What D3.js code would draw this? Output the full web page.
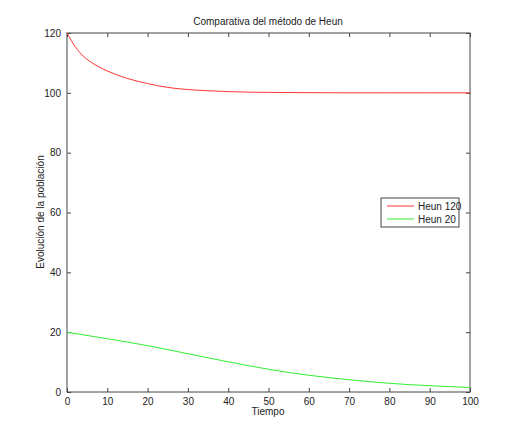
<!DOCTYPE html>
<html><head><meta charset="utf-8">
<script src="https://cdn.jsdelivr.net/npm/d3@7"></script>
<style>body{margin:0;background:#fff}text{font-family:Arial,"Liberation Sans",sans-serif;font-size:10px}</style>
</head><body><svg id="c" width="520" height="441"></svg>
<script>
var tRed = [0,2,4,6,8,10,12,15,20,25,30,35,40,50,60,70,80,90,100];
var heun120 = [120,115.5,112.3,110.2,108.6,107.3,106.2,104.8,103.1,101.8,101.1,100.7,100.4,100.15,100.05,100,100,100,100];
var tGreen = [0,10,20,30,40,50,60,70,80,90,100];
var heun20 = [20,17.8,15.5,12.8,10.1,7.6,5.6,4.1,2.9,2.1,1.5];
var xTicks = d3.range(0,101,10);
var yTicks = d3.range(0,121,20);

var svg = d3.select("#c");
var x = d3.scaleLinear().domain([0,100]).range([67,470]);
var y = d3.scaleLinear().domain([0,120]).range([392,33]);

svg.append("rect").attr("x",67).attr("y",33).attr("width",403).attr("height",359)
  .attr("fill","none").attr("stroke","#444");

var xa = svg.append("g").attr("transform","translate(0,392)").call(d3.axisBottom(x).tickValues(xTicks).tickSize(-4).tickPadding(6));
var ya = svg.append("g").attr("transform","translate(67,0)").call(d3.axisLeft(y).tickValues(yTicks).tickSize(-4).tickPadding(6));
// mirrored ticks on top/right
svg.append("g").attr("transform","translate(0,33)").call(d3.axisTop(x).tickValues(xTicks).tickSize(-4).tickFormat(""));
svg.append("g").attr("transform","translate(470,0)").call(d3.axisRight(y).tickValues(yTicks).tickSize(-4).tickFormat(""));
svg.selectAll(".domain").remove();
svg.selectAll(".tick line").attr("stroke","#444");
svg.selectAll(".tick text").attr("fill","#222").style("font-size","10px");

var line = d3.line().curve(d3.curveMonotoneX);
svg.append("path").attr("d", line(tRed.map(function(t,i){return [x(t),y(heun120[i])];})))
  .attr("fill","none").attr("stroke","#ff3333").attr("stroke-width",1);
svg.append("path").attr("d", line(tGreen.map(function(t,i){return [x(t),y(heun20[i])];})))
  .attr("fill","none").attr("stroke","#33ee33").attr("stroke-width",1);

svg.append("text").attr("x",268).attr("y",25).attr("text-anchor","middle").attr("fill","#222").text("Comparativa del método de Heun");
svg.append("text").attr("x",268).attr("y",415).attr("text-anchor","middle").attr("fill","#222").text("Tiempo");
svg.append("text").attr("transform","translate(44,212) rotate(-90)").attr("text-anchor","middle").attr("fill","#222").text("Evolución de la población");

var lg = svg.append("g");
lg.append("rect").attr("x",381).attr("y",198).attr("width",78).attr("height",29).attr("fill","#fff").attr("stroke","#444");
var names = ["Heun 120","Heun 20"], cols = ["#ff3333","#33ee33"];
names.forEach(function(n,i){
  var yy = 206 + i*13;
  lg.append("line").attr("x1",387).attr("x2",414).attr("y1",yy).attr("y2",yy).attr("stroke",cols[i]);
  lg.append("text").attr("x",418).attr("y",yy+4).attr("fill","#222").text(n);
});
</script></body></html>
